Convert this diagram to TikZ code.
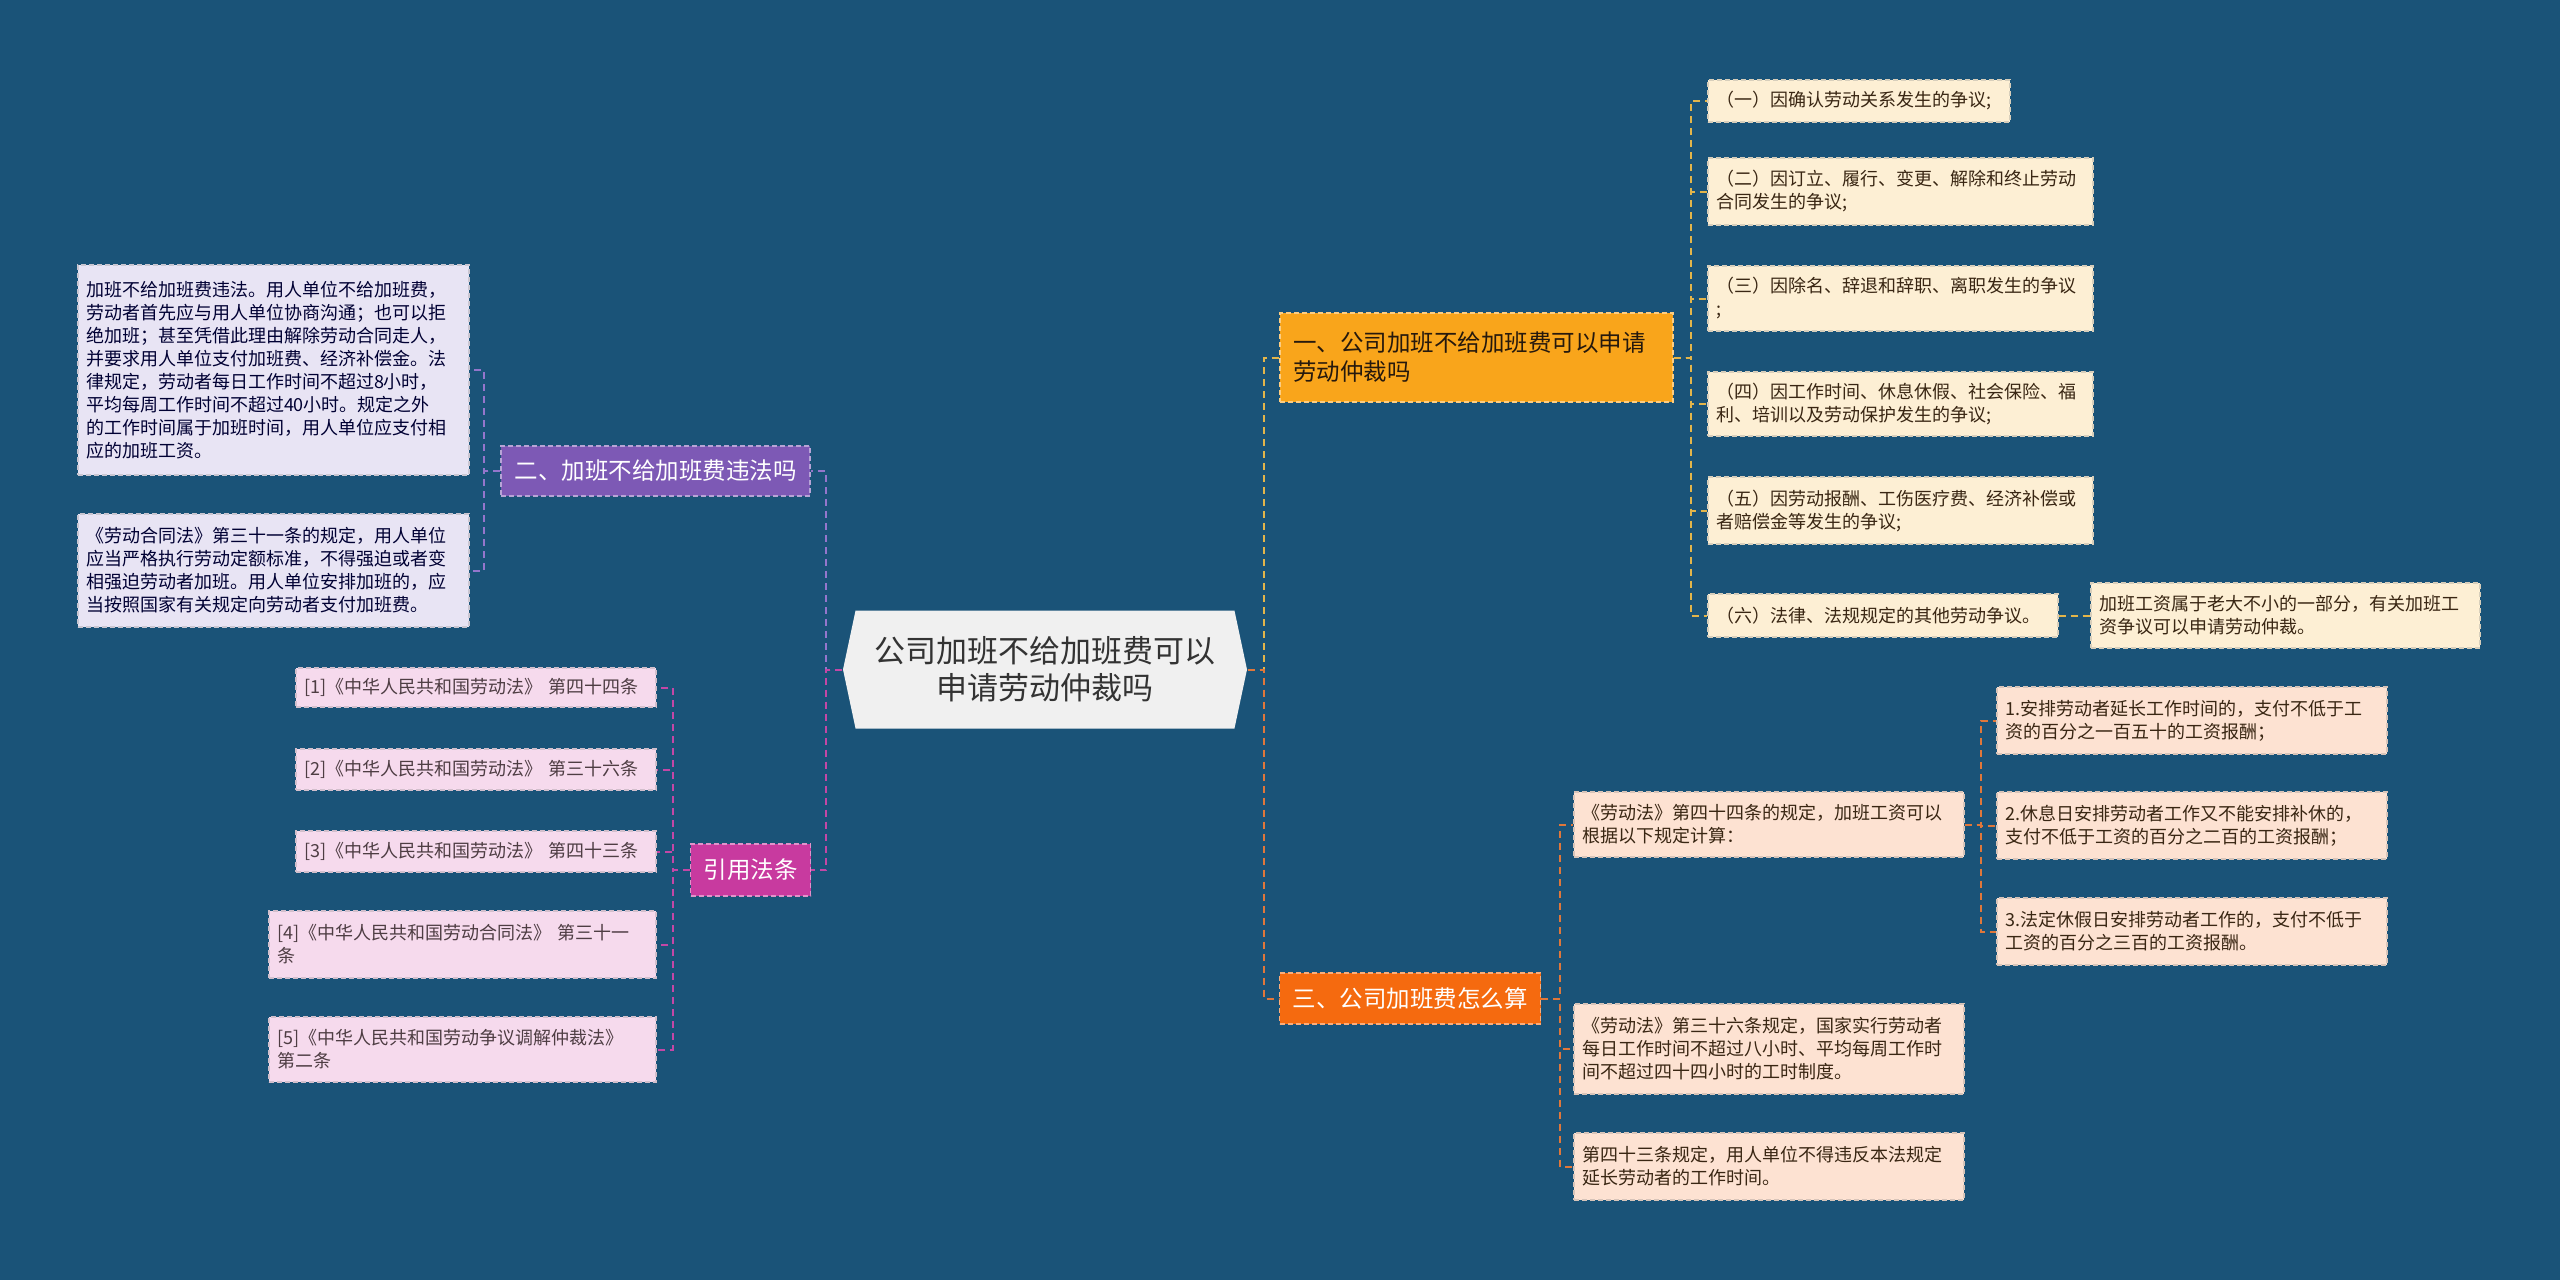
\documentclass[tikz,border=0pt]{standalone}
\usepackage{fontspec}
\setmainfont{Noto Sans CJK SC}
\usetikzlibrary{shapes.symbols}
\definecolor{cbg}{HTML}{1A5378}
\definecolor{croot}{HTML}{F0F0F0}
\definecolor{cyellow}{HTML}{F9A51B}
\definecolor{corange}{HTML}{F56A0F}
\definecolor{cpurple}{HTML}{7D59B5}
\definecolor{cmagenta}{HTML}{C83A9F}
\definecolor{ccream}{HTML}{FDEFD4}
\definecolor{cpeach}{HTML}{FDE2D2}
\definecolor{clav}{HTML}{E8E4F4}
\definecolor{cpink}{HTML}{F6DAED}
\definecolor{lyellow}{HTML}{E3B54A}
\definecolor{lorange}{HTML}{E0773A}
\definecolor{lpurple}{HTML}{9476CC}
\definecolor{lmagenta}{HTML}{C447A6}
\tikzset{
  every picture/.style={line width=1.2pt},
  topic/.style={fill=#1, draw=#1!55!white, dash pattern=on 5pt off 3pt, text=white,
                inner xsep=13pt, font=\fontsize{23.5}{29}\selectfont},
  leaf/.style={fill=#1, draw=#1!70!gray, dash pattern=on 5pt off 3pt, align=left,
               inner xsep=8pt, font=\fontsize{18}{23}\selectfont},
  yleaf/.style={leaf=ccream, text=black!70!brown},
  oleaf/.style={leaf=cpeach, text=black!70!brown},
  pleaf/.style={leaf=clav, text=black!80!blue},
  mleaf/.style={leaf=cpink, text=black!80!magenta},
  link/.style={draw=#1, line width=2pt, dash pattern=on 7pt off 5pt},
}
\begin{document}
\begin{tikzpicture}[x=1pt, y=-1pt]
  \newcommand{\twig}[7]{% id, style, x, y, width, height, text
    \node[#2, text width=\dimexpr#5pt-16pt\relax, minimum height=#6pt] (#1) at (#3,#4) {#7};}
  \fill[cbg] (0,0) rectangle (2560,1280);
  \useasboundingbox (0,0) rectangle (2560,1280);
  % centre
  \node[shape=signal, signal to=east and west, signal pointer angle=156, fill=croot,
        minimum width=404pt, minimum height=118pt, inner sep=0pt, align=center,
        text=black!80, font=\fontsize{31}{37}\selectfont] (root) at (1045,669.5)
        {公司加班不给加班费可以\\申请劳动仲裁吗};
  % branches
  \node[topic=cyellow, text=black!80!brown, text width=367pt, align=left, minimum height=89pt] (b1) at (1476.5,357.5)
        {一、公司加班不给加班费可以申请\\劳动仲裁吗};
  \node[topic=corange, minimum width=260pt, minimum height=51pt] (b3) at (1410,998.5) {三、公司加班费怎么算};
  \node[topic=cpurple, minimum width=309pt, minimum height=50pt] (b2) at (655.5,471) {二、加班不给加班费违法吗};
  \node[topic=cmagenta, minimum width=119pt, minimum height=52pt] (b4) at (750.5,870) {引用法条};
  % branch 1
  \twig{c1}{yleaf}{1859}{101}{302}{42}{（一）因确认劳动关系发生的争议;}
  \twig{c2}{yleaf}{1900.5}{191.5}{385}{67}{（二）因订立、履行、变更、解除和终止劳动\\合同发生的争议;}
  \twig{c3}{yleaf}{1900.5}{298.5}{385}{65}{（三）因除名、辞退和辞职、离职发生的争议\\;}
  \twig{c4}{yleaf}{1900.5}{404}{385}{64}{（四）因工作时间、休息休假、社会保险、福\\利、培训以及劳动保护发生的争议;}
  \twig{c5}{yleaf}{1900.5}{510.5}{385}{67}{（五）因劳动报酬、工伤医疗费、经济补偿或\\者赔偿金等发生的争议;}
  \twig{c6}{yleaf}{1883}{615.5}{350}{43}{（六）法律、法规规定的其他劳动争议。}
  \twig{c7}{yleaf}{2285.5}{615.5}{389}{65}{加班工资属于老大不小的一部分，有关加班工\\资争议可以申请劳动仲裁。}
  % branch 3
  \twig{d1}{oleaf}{1769}{824.5}{390}{65}{《劳动法》第四十四条的规定，加班工资可以\\根据以下规定计算：}
  \twig{d2}{oleaf}{1769}{1049}{390}{90}{《劳动法》第三十六条规定，国家实行劳动者\\每日工作时间不超过八小时、平均每周工作时\\间不超过四十四小时的工时制度。}
  \twig{d3}{oleaf}{1769}{1166.5}{390}{67}{第四十三条规定，用人单位不得违反本法规定\\延长劳动者的工作时间。}
  \twig{e1}{oleaf}{2192}{720.5}{390}{67}{1.安排劳动者延长工作时间的，支付不低于工\\资的百分之一百五十的工资报酬；}
  \twig{e2}{oleaf}{2192}{825.5}{390}{67}{2.休息日安排劳动者工作又不能安排补休的，\\支付不低于工资的百分之二百的工资报酬；}
  \twig{e3}{oleaf}{2192}{931.5}{390}{67}{3.法定休假日安排劳动者工作的，支付不低于\\工资的百分之三百的工资报酬。}
  % branch 2
  \twig{f1}{pleaf}{273.5}{370}{391}{210}{加班不给加班费违法。用人单位不给加班费，\\劳动者首先应与用人单位协商沟通；也可以拒\\绝加班；甚至凭借此理由解除劳动合同走人，\\并要求用人单位支付加班费、经济补偿金。法\\律规定，劳动者每日工作时间不超过8小时，\\平均每周工作时间不超过40小时。规定之外\\的工作时间属于加班时间，用人单位应支付相\\应的加班工资。}
  \twig{f2}{pleaf}{273.5}{570.5}{391}{113}{《劳动合同法》第三十一条的规定，用人单位\\应当严格执行劳动定额标准，不得强迫或者变\\相强迫劳动者加班。用人单位安排加班的，应\\当按照国家有关规定向劳动者支付加班费。}
  % branch 4
  \twig{g1}{mleaf}{476}{687.5}{360}{39}{[1]《中华人民共和国劳动法》 第四十四条}
  \twig{g2}{mleaf}{476}{769.5}{360}{41}{[2]《中华人民共和国劳动法》 第三十六条}
  \twig{g3}{mleaf}{476}{851.5}{360}{41}{[3]《中华人民共和国劳动法》 第四十三条}
  \twig{g4}{mleaf}{462.5}{944.5}{387}{67}{[4]《中华人民共和国劳动合同法》 第三十一\\条}
  \twig{g5}{mleaf}{462.5}{1049.5}{387}{65}{[5]《中华人民共和国劳动争议调解仲裁法》\\第二条}
  % connectors
  \draw[link=lyellow] (root.east) -- ++(16,0) |- (b1.west);
  \draw[link=lorange] (root.east) -- ++(16,0) |- (b3.west);
  \draw[link=lpurple] (root.west) -- ++(-16,0) |- (b2.east);
  \draw[link=lmagenta] (root.west) -- ++(-16,0) |- (b4.east);
  \foreach \i in {1,...,6} \draw[link=lyellow] (b1.east) -- ++(17,0) |- (c\i.west);
  \draw[link=lyellow] (c6) -- (c7);
  \foreach \n in {d1,d2,d3} \draw[link=lorange] (b3.east) -- ++(19,0) |- (\n.west);
  \foreach \n in {e1,e2,e3} \draw[link=lorange] (d1.east) -- ++(16,0) |- (\n.west);
  \foreach \n in {f1,f2} \draw[link=lpurple] (b2.west) -- ++(-16,0) |- (\n.east);
  \foreach \i in {1,...,5} \draw[link=lmagenta] (b4.west) -- ++(-17,0) |- (g\i.east);
\end{tikzpicture}
\end{document}
